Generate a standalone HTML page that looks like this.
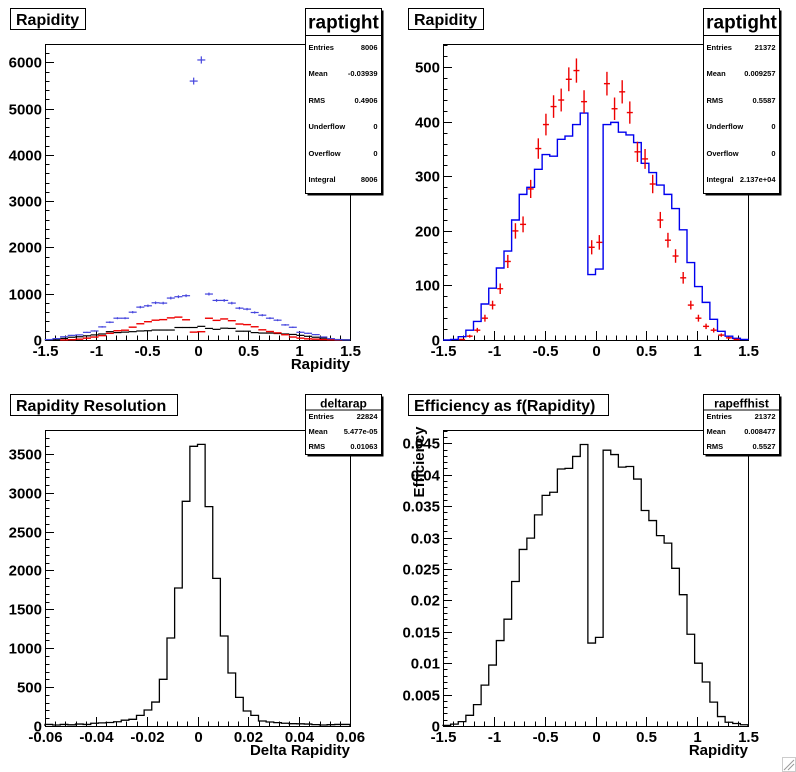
<!DOCTYPE html>
<html><head><meta charset="utf-8"><style>
html,body{margin:0;padding:0;background:#fff;}
svg{display:block;}
text{font-family:"Liberation Sans",Arial,sans-serif;font-weight:bold;}
</style></head><body>
<svg id="s" width="796" height="772" viewBox="0 0 796 772" xmlns="http://www.w3.org/2000/svg"></svg>
<script>
var S=document.getElementById('s'),out='';
function L(x1,y1,x2,y2,c,w){out+='<line x1="'+x1+'" y1="'+y1+'" x2="'+x2+'" y2="'+y2+'" stroke="'+(c||'#000')+'" stroke-width="'+(w||1)+'"/>';}
function T(x,y,s,sz,anc,extra){out+='<text x="'+x+'" y="'+y+'" font-size="'+sz+'" text-anchor="'+(anc||'start')+'" '+(extra||'')+'>'+s+'</text>';}
function R(x,y,w,h,f,st){out+='<rect x="'+x+'" y="'+y+'" width="'+w+'" height="'+h+'" fill="'+(f||'none')+'" stroke="'+(st||'none')+'" stroke-width="1"/>';}
function pad(ox,oy,c){
  var X0=ox+45,X1=ox+350,Y0=oy+44,Y1=oy+340;
  function px(v){return X0+(v-c.xmin)/(c.xmax-c.xmin)*(X1-X0);}
  function py(v){return Y1-(v)/(c.ymax)*(Y1-Y0);}
  c.px=px;c.py=py;
  // title box
  R(ox+10.5,oy+8.5,c.tw,21,'#fff','#000');
  T(ox+16,oy+25,c.title,16);
  // frame
  R(X0+0.5,Y0+0.5,X1-X0,Y1-Y0,'none','#000');
  // y ticks
  for(var v=0;v<=c.ymax+1e-12;v+=c.ymin){
    var y=Math.round(py(v))+0.5;
    var maj=Math.abs(v/c.ymaj-Math.round(v/c.ymaj))<1e-6;
    L(X0,y,X0+(maj?9:4.5),y);
    if(maj){T(X0-3,y+5,c.yfmt(v),15,'end');}
  }
  // x ticks
  var n=Math.round((c.xmax-c.xmin)/c.xminor);
  for(var i=0;i<=n;i++){
    var v=c.xmin+i*c.xminor,x=Math.round(px(v))+0.5;
    var maj=i%c.xr==0;
    L(x,Y1,x,Y1-(maj?9:4.5));
    if(maj)T(x,Y1+16,c.xfmt(v),15,'middle');
  }
  if(c.xtitle)T(X1,oy+369,c.xtitle,15,'end');
  c.draw(c);
  // stats
  var sx=ox+305.5,sy=oy+8.5;
  R(sx+2,sy+2,76,c.sh,'#000','none');
  R(sx,sy,76,c.sh,'#fff','#000');
  if(c.big){
    T(sx+38,sy+20,c.sname,19,'middle');
    L(sx,sy+27,sx+76,sy+27);
    var ys=[48,74,101,127,154,180];
    c.stats.forEach(function(r,k){T(sx+3,oy+ys[k]+2,r[0],7.5);T(sx+72,oy+ys[k]+2,r[1],7.5,'end');});
  } else {
    T(sx+38,sy+13,c.sname,12,'middle');
    L(sx,sy+15.5,sx+76,sy+15.5);
    var ys=[30,45,60];
    c.stats.forEach(function(r,k){T(sx+3,oy+ys[k]+3,r[0],7.5);T(sx+72,oy+ys[k]+3,r[1],7.5,'end');});
  }
}
function hist(c,vals,col,w){
  var n=vals.length,bw=(c.xmax-c.xmin)/n,d='';
  for(var i=0;i<n;i++){
    var xa=c.px(c.xmin+i*bw),xb=c.px(c.xmin+(i+1)*bw),y=c.py(vals[i]);
    d+=(i==0?'M'+xa+' '+c.py(0)+' L'+xa+' '+y:' L'+xa+' '+y)+' L'+xb+' '+y;
  }
  d+=' L'+c.px(c.xmax)+' '+c.py(0);
  out+='<path d="'+d+'" fill="none" stroke="'+col+'" stroke-width="'+(w||1.3)+'"/>';
}
function pts(c,vals,col,err,hw,w){
  var n=vals.length,bw=(c.xmax-c.xmin)/n;
  for(var i=0;i<n;i++){
    if(vals[i]<=0)continue;
    var xc=c.px(c.xmin+(i+0.5)*bw),y=c.py(vals[i]);
    L(xc-hw,y,xc+hw,y,col,w);
    if(err){var e=Math.sqrt(vals[i]);L(xc,c.py(vals[i]+e),xc,Math.min(c.py(0),c.py(vals[i]-e)),col,w);}
  }
}
var red=[0,0,1,7,18,40,64,94,144,200,212,277,351,395,428,440,478,494,437,170,179,470,424,455,417,345,332,286,220,183,154,114,64,40,25,18,9,4,1,0];
var blueTR=[0,1,6,18,34,66,95,132,163,220,267,280,313,340,337,368,374,395,416,120,130,395,399,381,376,362,324,307,284,267,241,202,142,98,69,38,16,7,3,1];
var blueTL=[10,30,70,100,110,165,195,283,384,471,471,601,710,739,804,797,906,935,957,5594,6050,993,855,855,797,688,667,594,536,471,428,326,275,167,145,116,65,29,7,2];
var blk=[5,15,35,60,70,90,110,130,180,160,170,180,195,200,215,215,215,270,270,270,295,250,230,255,250,190,190,160,150,150,140,130,120,100,80,60,40,20,10,5];
var dr=[20,13,20,15,25,20,35,40,45,55,75,86,137,206,308,600,1131,1774,2888,3595,3620,2820,1898,1157,681,368,193,137,64,51,43,35,30,28,25,18,13,17,20,20];
var eff=[0.0001,0.0003,0.0007,0.0017,0.0034,0.0065,0.0097,0.0136,0.0170,0.0230,0.0281,0.0299,0.0336,0.0367,0.0372,0.0409,0.0410,0.0429,0.0448,0.0132,0.0141,0.0439,0.0432,0.0412,0.0413,0.0393,0.0343,0.0327,0.0303,0.0291,0.0251,0.0209,0.0146,0.0100,0.0070,0.0038,0.0015,0.0006,0.0004,0.0002];
function rfmt(v){v=Math.round(v*10)/10;return v==0?'0':String(v);}
pad(0,0,{title:'Rapidity',tw:75,xmin:-1.5,xmax:1.5,xminor:0.1,xr:5,xfmt:rfmt,ymax:6395,ymin:200,ymaj:1000,yfmt:function(v){return String(Math.round(v));},xtitle:'Rapidity',
 big:1,sh:185,sname:'raptight',stats:[['Entries','8006'],['Mean','-0.03939'],['RMS','0.4906'],['Underflow','0'],['Overflow','0'],['Integral','8006']],
 draw:function(c){pts(c,blk,'#000',false,4,1.2);pts(c,red,'#e00',false,4,1.4);pts(c,blueTL,'#4444dd',true,4,1.2);}});
pad(398,0,{title:'Rapidity',tw:75,xmin:-1.5,xmax:1.5,xminor:0.1,xr:5,xfmt:rfmt,ymax:542.7,ymin:20,ymaj:100,yfmt:function(v){return String(Math.round(v));},xtitle:'',
 big:1,sh:185,sname:'raptight',stats:[['Entries','21372'],['Mean','0.009257'],['RMS','0.5587'],['Underflow','0'],['Overflow','0'],['Integral','2.137e+04']],
 draw:function(c){hist(c,blueTR,'#0000ee',1.4);pts(c,red,'#e00',true,3,1.4);}});
pad(0,386,{title:'Rapidity Resolution',tw:167,xmin:-0.06,xmax:0.06,xminor:0.004,xr:5,xfmt:function(v){v=Math.round(v*100)/100;return v==0?'0':v.toFixed(2);},ymax:3805,ymin:100,ymaj:500,yfmt:function(v){return String(Math.round(v));},xtitle:'Delta Rapidity',
 big:0,sh:60,sname:'deltarap',stats:[['Entries','22824'],['Mean','5.477e-05'],['RMS','0.01063']],
 draw:function(c){hist(c,dr,'#000',1.3);}});
pad(398,386,{title:'Efficiency as f(Rapidity)',tw:200,xmin:-1.5,xmax:1.5,xminor:0.1,xr:5,xfmt:rfmt,ymax:0.04711,ymin:0.001,ymaj:0.005,yfmt:function(v){v=Math.round(v*1000)/1000;return v==0?'0':String(v);},xtitle:'Rapidity',
 big:0,sh:60,sname:'rapeffhist',stats:[['Entries','21372'],['Mean','0.008477'],['RMS','0.5527']],
 draw:function(c){hist(c,eff,'#000',1.3);}});
T(0,0,'Efficiency',15,'middle','transform="translate(424,462) rotate(-90)"');
L(784,770,794,760,'#999',1);L(788,770,794,764,'#999',1);
R(782.5,757.5,13,14,'none','#ccc');
S.innerHTML=out;
</script>
</body></html>
